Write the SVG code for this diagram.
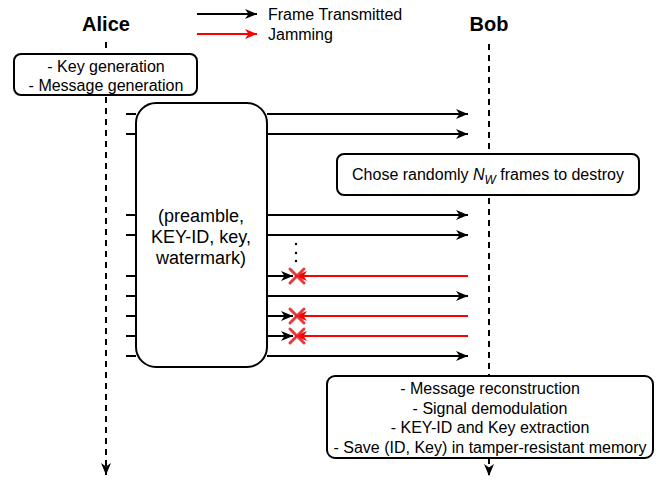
<svg xmlns="http://www.w3.org/2000/svg" width="661" height="480" viewBox="0 0 661 480">
<style>
text{font-family:"Liberation Sans",Arial,sans-serif;fill:#000}
.t16{font-size:16px}
.t18{font-size:18px}
.hdr{font-size:20px;font-weight:bold}
.box{fill:#fff;stroke:#000;stroke-width:2}
.life{fill:none;stroke:#000;stroke-width:2;stroke-dasharray:6 5}
.blk{fill:none;stroke:#000;stroke-width:2}
.red{fill:none;stroke:#ff0000;stroke-width:2}
.x{stroke:#e0282b;stroke-width:3;stroke-linecap:round;opacity:0.9}
</style>
<defs>
<marker id="ab" markerUnits="userSpaceOnUse" markerWidth="13" markerHeight="11" viewBox="0 0 13 11" refX="12" refY="5.5" orient="auto">
<path d="M0,0.5 L12,5.5 L0,10.5 L3.5,5.5 Z" fill="#000"/>
</marker>
<marker id="ar" markerUnits="userSpaceOnUse" markerWidth="13" markerHeight="11" viewBox="0 0 13 11" refX="12" refY="5.5" orient="auto">
<path d="M0,0.5 L12,5.5 L0,10.5 L3.5,5.5 Z" fill="#ff0000"/>
</marker>
</defs>

<g id="lifelines">
<line class="life" x1="106" y1="42" x2="106" y2="475" marker-end="url(#ab)"/>
<line class="life" x1="489" y1="44" x2="489" y2="376"/>
<line class="life" x1="489" y1="458" x2="489" y2="476" marker-end="url(#ab)"/>
</g>

<g id="legend">
<line class="blk" x1="197" y1="14" x2="257" y2="14" marker-end="url(#ab)"/>
<line class="red" x1="197" y1="34" x2="257" y2="34" marker-end="url(#ar)"/>
<text class="t16" x="268" y="20">Frame Transmitted</text>
<text class="t16" x="268" y="40">Jamming</text>
</g>

<g id="alice"><text class="hdr" x="106" y="31" text-anchor="middle">Alice</text></g>
<g id="bob"><text class="hdr" x="489" y="31" text-anchor="middle">Bob</text></g>

<g id="connectors">
<g id="stubs">
<line class="blk" x1="126" y1="114" x2="136" y2="114"/>
<line class="blk" x1="126" y1="134" x2="136" y2="134"/>
<line class="blk" x1="126" y1="215" x2="136" y2="215"/>
<line class="blk" x1="126" y1="235" x2="136" y2="235"/>
<line class="blk" x1="126" y1="276" x2="136" y2="276"/>
<line class="blk" x1="126" y1="296" x2="136" y2="296"/>
<line class="blk" x1="126" y1="316" x2="136" y2="316"/>
<line class="blk" x1="126" y1="336" x2="136" y2="336"/>
<line class="blk" x1="126" y1="356" x2="136" y2="356"/>
</g>
<line class="blk" x1="267" y1="114" x2="468" y2="114" marker-end="url(#ab)"/>
<line class="blk" x1="267" y1="134" x2="468" y2="134" marker-end="url(#ab)"/>
<line class="blk" x1="267" y1="215" x2="468" y2="215" marker-end="url(#ab)"/>
<line class="blk" x1="267" y1="235" x2="468" y2="235" marker-end="url(#ab)"/>
<line class="blk" x1="267" y1="276" x2="293" y2="276" marker-end="url(#ab)"/>
<line class="blk" x1="267" y1="296" x2="468" y2="296" marker-end="url(#ab)"/>
<line class="blk" x1="267" y1="316" x2="293" y2="316" marker-end="url(#ab)"/>
<line class="blk" x1="267" y1="336" x2="293" y2="336" marker-end="url(#ab)"/>
<line class="blk" x1="267" y1="356" x2="468" y2="356" marker-end="url(#ab)"/>
<line class="red" x1="468" y1="276" x2="295" y2="276" marker-end="url(#ar)"/>
<line class="red" x1="468" y1="316" x2="295" y2="316" marker-end="url(#ar)"/>
<line class="red" x1="468" y1="336" x2="295" y2="336" marker-end="url(#ar)"/>
<g id="jam-marks">
<path class="x" d="M290,269 L304,283 M304,269 L290,283"/>
<path class="x" d="M290,309 L304,323 M304,309 L290,323"/>
<path class="x" d="M290,329 L304,343 M304,329 L290,343"/>
</g>
<g id="ellipsis" fill="#000">
<circle cx="296" cy="244" r="1.2"/>
<circle cx="296" cy="253" r="1.2"/>
<circle cx="296" cy="261" r="1.2"/>
</g>
</g>

<g id="keygen">
<rect class="box" x="14" y="54" width="183" height="41" rx="7"/>
<text class="t16" x="106" y="72" text-anchor="middle">- Key generation</text>
<text class="t16" x="106" y="91" text-anchor="middle">- Message generation</text>
</g>

<g id="frame">
<rect class="box" x="136" y="103" width="131" height="264" rx="20"/>
<text class="t18" x="201" y="222" text-anchor="middle">(preamble,</text>
<text class="t18" x="201" y="243" text-anchor="middle">KEY-ID, key,</text>
<text class="t18" x="201" y="264" text-anchor="middle">watermark)</text>
</g>

<g id="chose">
<rect class="box" x="337" y="154" width="302" height="41" rx="7"/>
<text class="t16" x="488" y="180" text-anchor="middle">Chose randomly <tspan font-style="italic">N</tspan><tspan font-style="italic" font-size="12" dy="4">W</tspan><tspan dy="-4"> frames to destroy</tspan></text>
</g>

<g id="receive">
<rect class="box" x="327" y="376" width="326" height="82" rx="8"/>
<text class="t16" x="490" y="394" text-anchor="middle">- Message reconstruction</text>
<text class="t16" x="490" y="414" text-anchor="middle">- Signal demodulation</text>
<text class="t16" x="490" y="433" text-anchor="middle">- KEY-ID and Key extraction</text>
<text class="t16" x="490" y="453" text-anchor="middle">- Save (ID, Key) in tamper-resistant memory</text>
</g>
</svg>
